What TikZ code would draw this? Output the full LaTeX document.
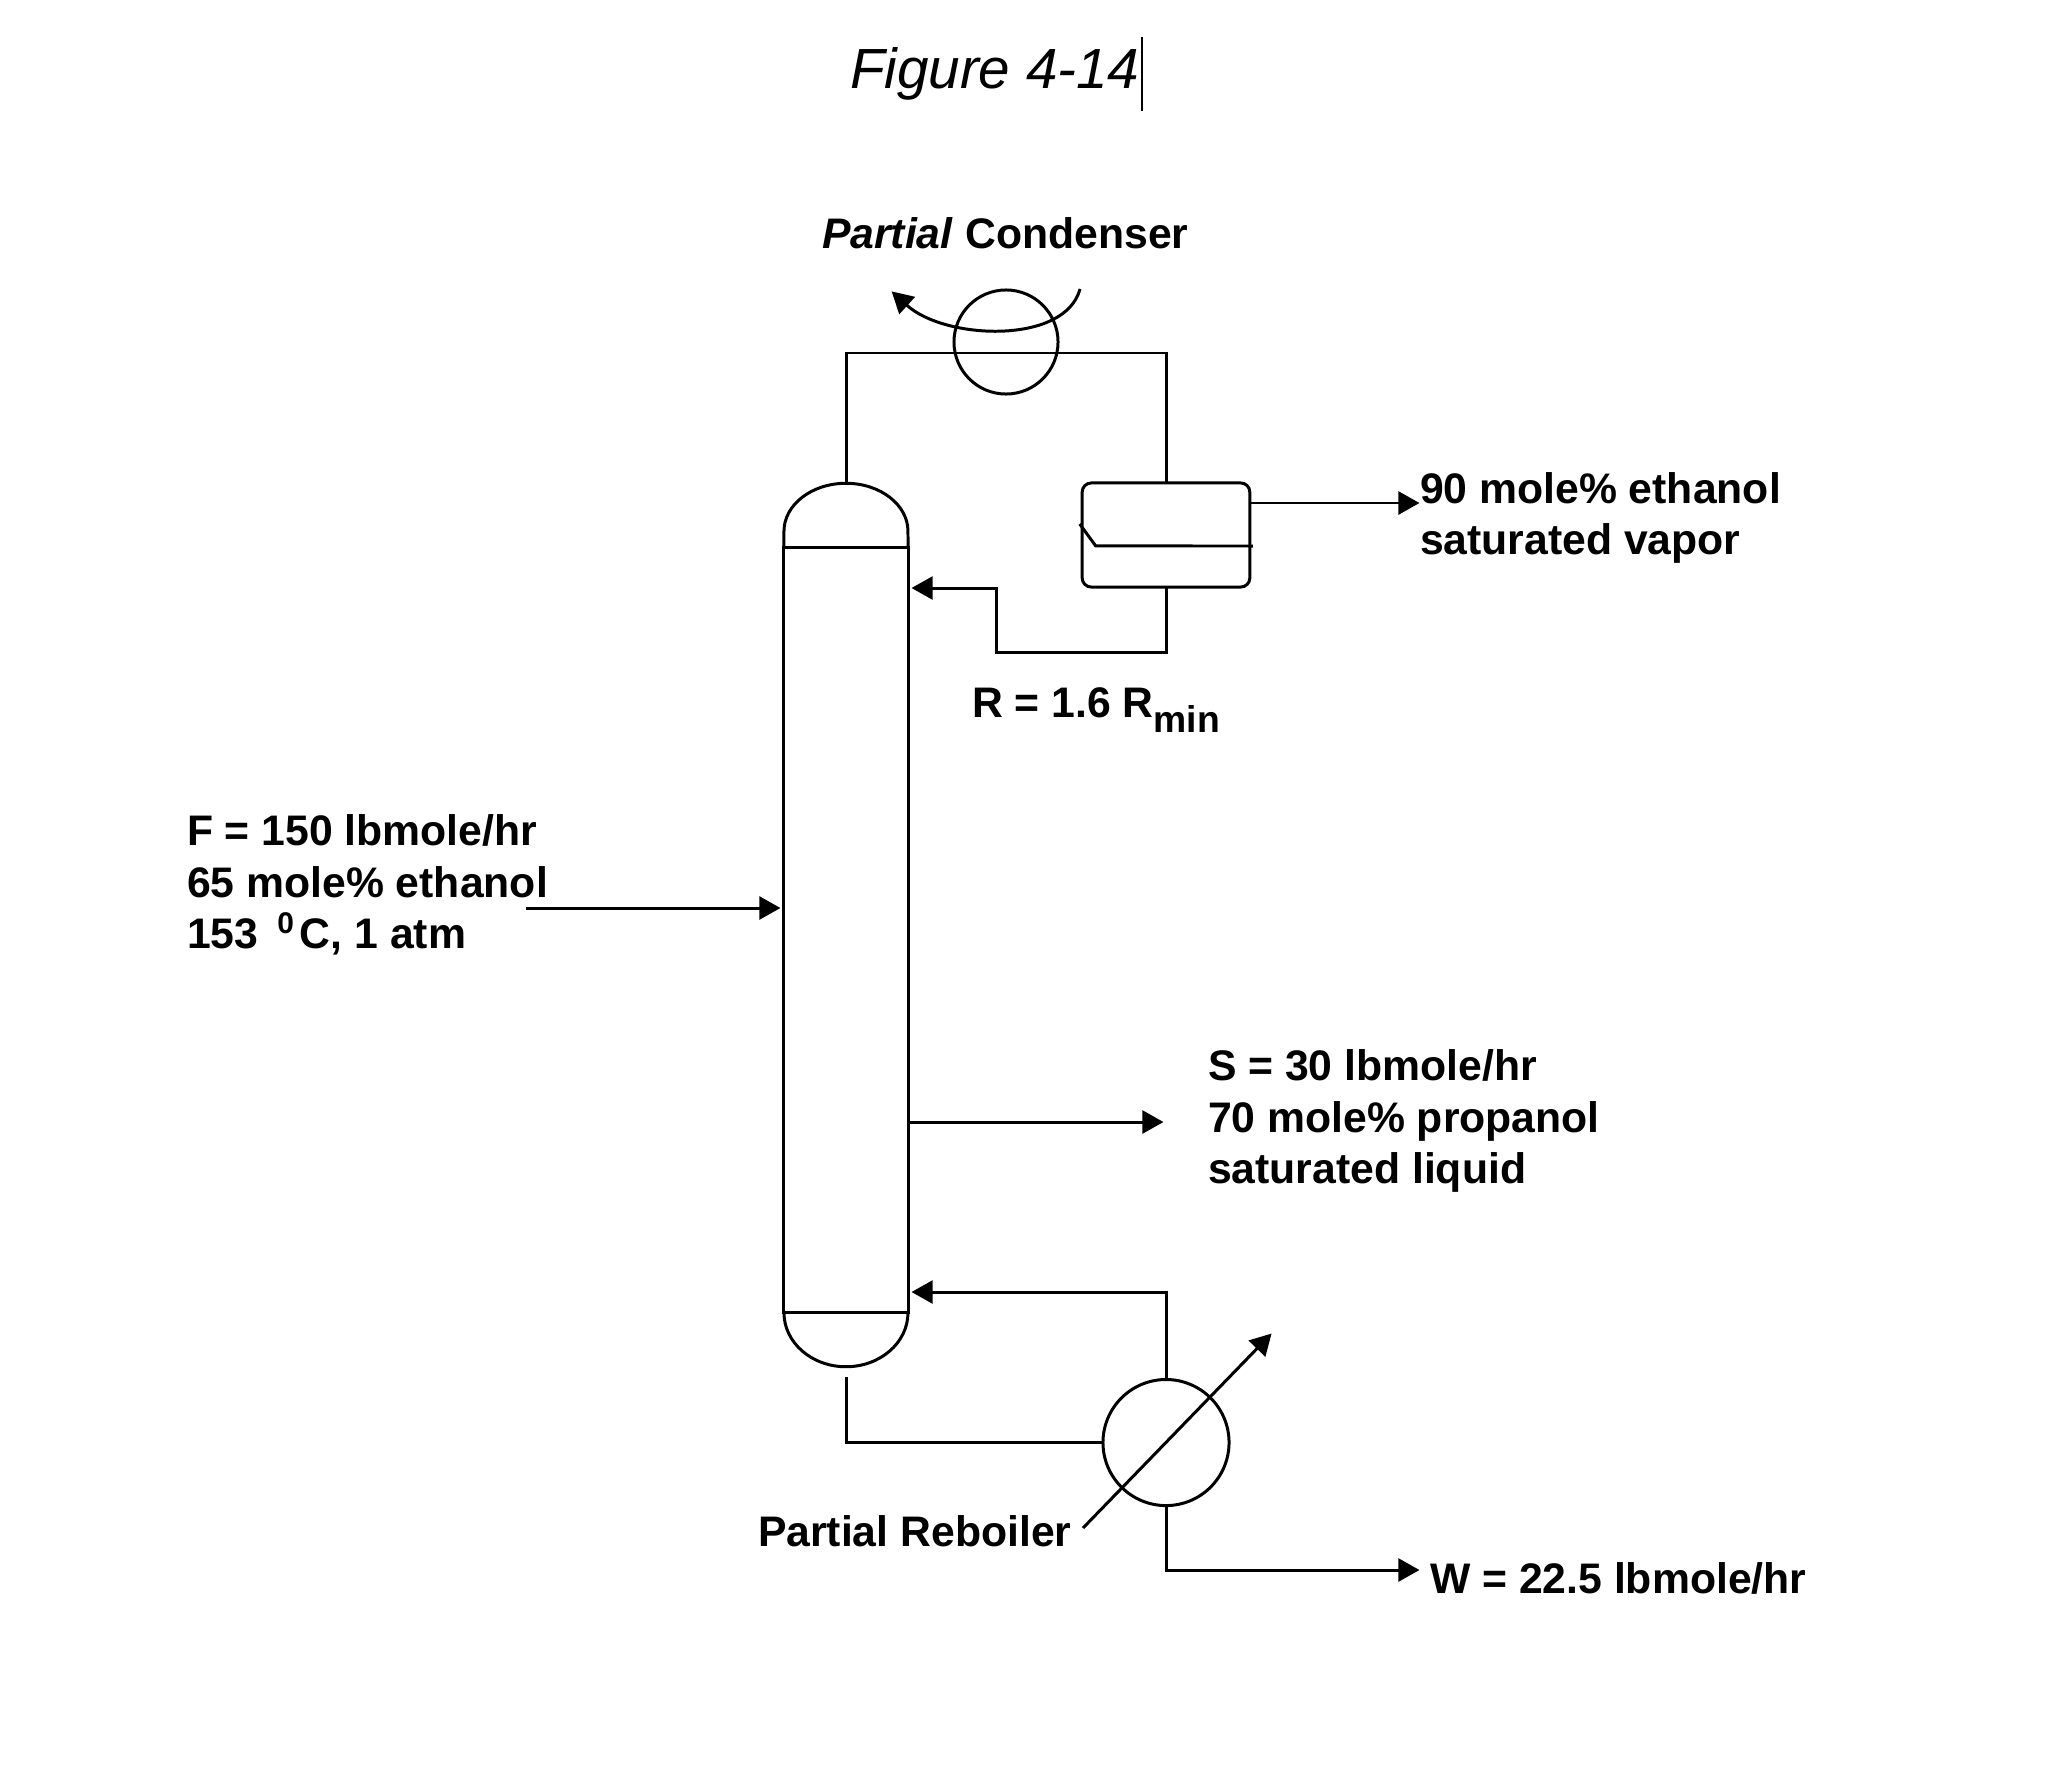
\documentclass[tikz,border=0pt]{standalone}
\usepackage{fontspec}
\setmainfont{Liberation Sans}
\usetikzlibrary{arrows.meta}

\begin{document}
\begin{tikzpicture}[x=0.01cm,y=0.01cm,->,>={Triangle[length=6pt,width=6.5pt]},shorten >=1pt,line width=0.85pt]
  \tikzstyle{every node}=[inner sep=0pt,outer sep=0pt]
  \tikzstyle{tower}=[draw,rectangle,minimum width=1.24cm,minimum height=7.65cm]
  \tikzstyle{drum}=[draw,rectangle,rounded corners=0.09cm,minimum width=1.675cm,minimum height=1.04cm]
  \tikzstyle{exchanger}=[draw,circle]
  \tikzstyle{stream}=[align=left,anchor=west,font=\fontsize{12.15}{14.7}\selectfont\bfseries]
  \tikzstyle{pipe}=[-,shorten >=0pt]
  \useasboundingbox (0,0) rectangle (2046,-1791);
  \node[tower] (Column) at (846,-930) {};
  \node[drum] (Drum) at (1166,-535) {};
  \node[exchanger,minimum size=1.26cm] (Reboiler) [below of=Drum,node distance=9.07cm] {};
  \node[exchanger,minimum size=1.04cm] (Cooler) at (1006,-342) {};
  \coordinate (DomeTop) at (846,-484);
  \coordinate (Overhead) at (1006,-353);
  \coordinate (VaporOut) at (1423,-503);
  \coordinate (RefluxLow) at (996,-652);
  \coordinate (RefluxIn) at (908,-588);
  \coordinate (CoilIn) at (1080,-289);
  \coordinate (CoilOut) at (889,-289);
  \coordinate (FeedStart) at (526,-908);
  \coordinate (SideOut) at (1167,-1122);
  \coordinate (BoilUp) at (908,-1292);
  \coordinate (Bottoms) at (846,-1377);
  \coordinate (BottomsOut) at (1423,-1570);
  \coordinate (HeatIn) at (1083,-1528);
  \coordinate (HeatOut) at (1274,-1331);
  \coordinate (CaretTop) at (1142,-37);
  \coordinate (CaretEnd) at (1142,-111);
  % vessel heads and drum baffle
  \draw[pipe] (Column.north west) -- ++(0,16) arc (180:0:62 and 48) -- (Column.north east);
  \draw[pipe] (Column.south west) arc (180:360:62 and 54);
  \draw[pipe] ([shift={(-2.5,-41)}]Drum.north west) -- ++(16,-22) -- ([shift={(3,-11)}]Drum.east);
  % labels
  \node[font=\fontsize{16.1}{19}\selectfont\itshape,anchor=west] (Title) at (850,-74) {Figure 4-14};
  \node[stream] (CondLabel) at (822,-233) {\textit{Partial} Condenser};
  \node[stream] (VaporLabel) at (1420,-518) {90 mole\% ethanol\\ saturated vapor};
  \node[stream] (RefluxLabel) at (972,-710) {R = 1.6 R\raisebox{-4.4pt}{\fontsize{10.6}{12}\selectfont min}};
  \node[stream] (FeedLabel) at (187,-885) {F = 150 lbmole/hr\\ 65 mole\% ethanol\\ 153\, \textsuperscript{0}\kern1.2pt C, 1 atm};
  \node[stream] (SideLabel) at (1208,-1121) {S = 30 lbmole/hr\\ 70 mole\% propanol\\ saturated liquid};
  \node[stream] (ReboilerLabel) at (758,-1531) {Partial Reboiler};
  \node[stream] (BottomsLabel) at (1430,-1578) {W = 22.5 lbmole/hr};
  % piping
  \draw[pipe] (DomeTop) |- (Overhead) -| (Drum.north);
  \draw (Drum.east |- VaporOut) -- (VaporOut);
  \draw (Drum.south) |- (RefluxLow) |- (RefluxIn);
  \draw (CoilIn) .. controls (1065,-345) and (945,-340) .. (CoilOut);
  \draw (FeedStart) -- (FeedStart -| Column.west);
  \draw (SideOut -| Column.east) -- (SideOut);
  \draw (Reboiler.north) |- (BoilUp);
  \draw[pipe] (Bottoms) |- (Reboiler.west);
  \draw (Reboiler.south) |- (BottomsOut);
  \draw (HeatIn) -- (HeatOut);
  \draw[pipe,line width=0.6pt] (CaretTop) -- (CaretEnd);
\end{tikzpicture}
\end{document}
